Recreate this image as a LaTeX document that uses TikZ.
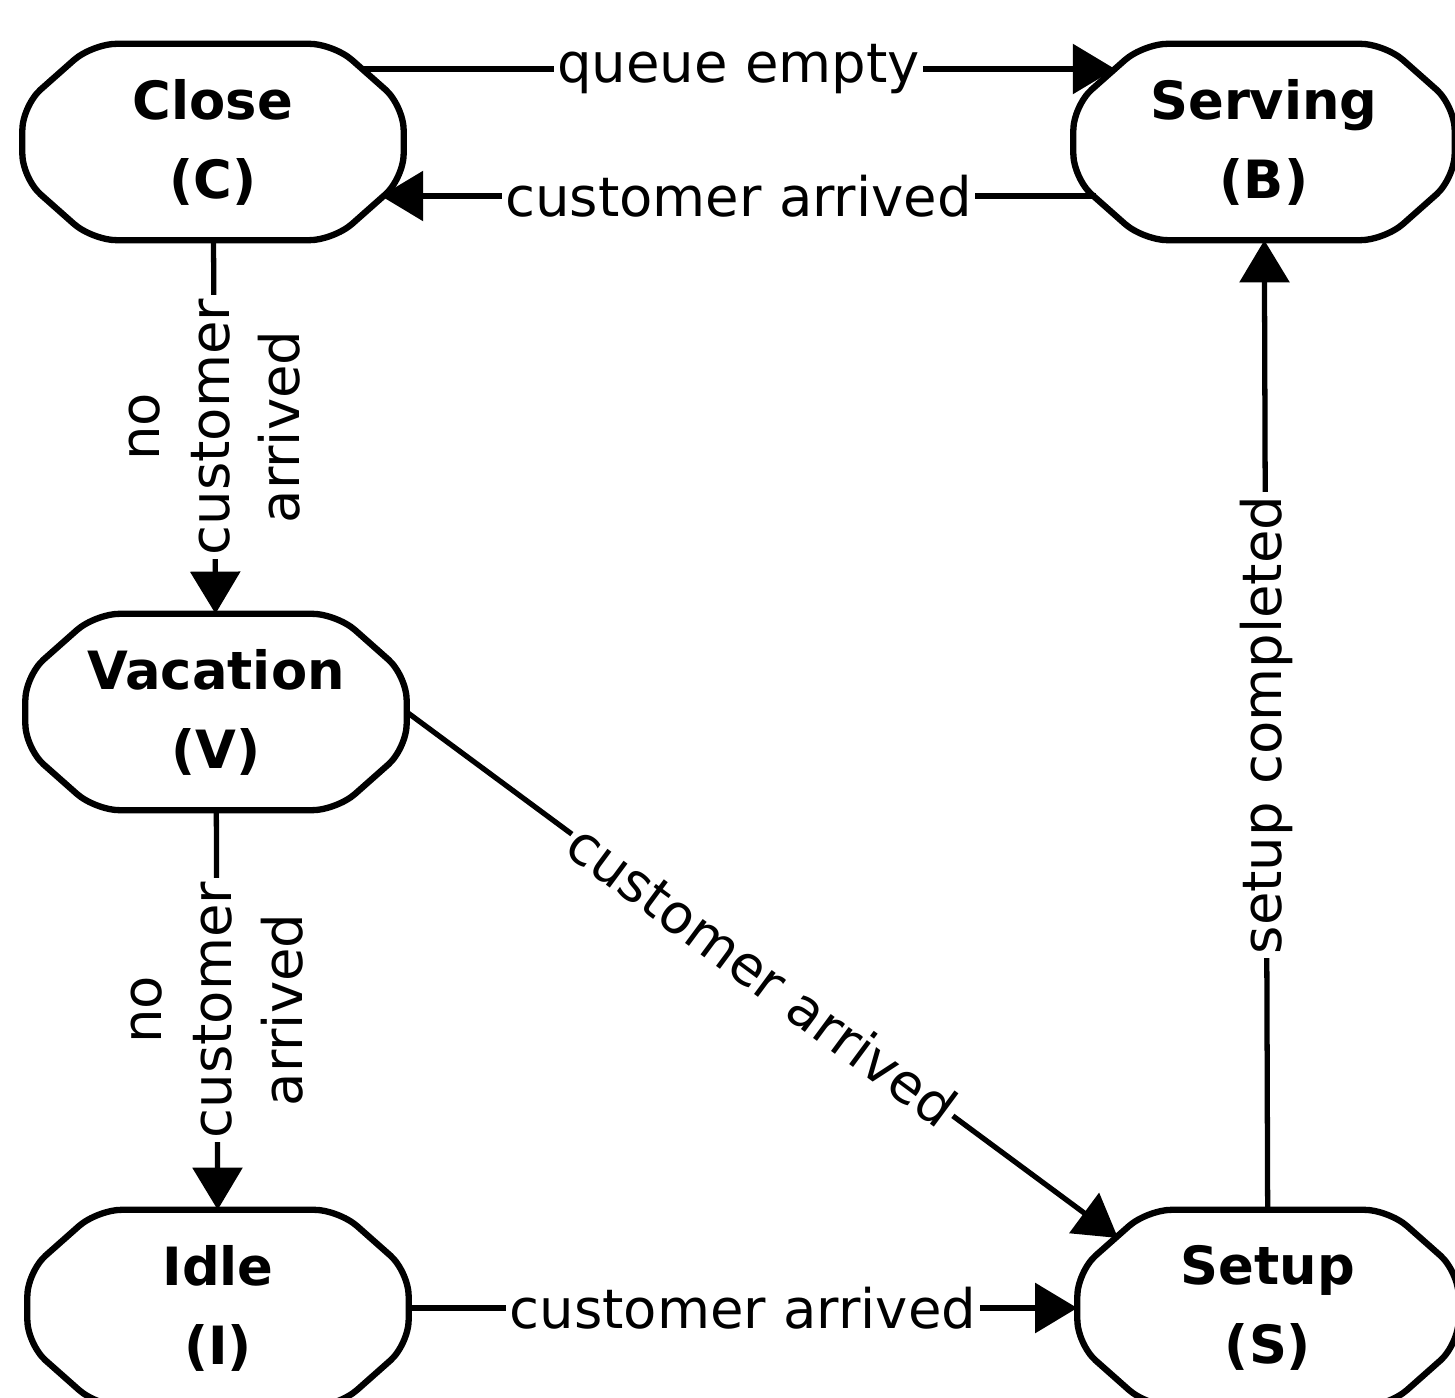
\documentclass[tikz,border=0pt]{standalone}
\usepackage{fontspec}
\setmainfont{DejaVu Sans}
\usetikzlibrary{calc,arrows.meta}
\tikzset{state/.style={rectangle, minimum width=3.8cm, minimum height=1.95cm, inner sep=0pt, align=center, font=\fontsize{15}{22.5}\selectfont\bfseries}}
\tikzset{stateline/.style={draw, line width=1.8pt, rounded corners=7pt}}
\tikzset{trans/.style={draw, line width=1.5pt, -{Triangle[length=12pt,width=14pt]}}}
\tikzset{lbl/.style={fill=white, inner sep=1pt, align=center, font=\fontsize{15.5}{20}\selectfont}}
\newcommand\octobox[1]{\draw[stateline] ([xshift=0.7cm]#1.north west) -- ([xshift=-0.7cm]#1.north east) -- ([yshift=-0.62cm]#1.north east) -- ([yshift=0.62cm]#1.south east) -- ([xshift=-0.7cm]#1.south east) -- ([xshift=0.7cm]#1.south west) -- ([yshift=0.62cm]#1.south west) -- ([yshift=-0.62cm]#1.north west) -- cycle;}

\begin{document}
\begin{tikzpicture}
  \useasboundingbox (0,0) rectangle (14.55,-13.98);
  \node[state] (close) at (2.13,-1.42) {Close\\(C)};
  \node[state] (serving) at (12.64,-1.42) {Serving\\(B)};
  \node[state] (vacation) at (2.16,-7.12) {Vacation\\(V)};
  \node[state] (idle) at (2.18,-13.08) {Idle\\(I)};
  \node[state] (setup) at (12.68,-13.08) {Setup\\(S)};
  \foreach \n in {close,serving,vacation,idle,setup} {\octobox{\n}}

  \draw[trans] ($(close)+(1.49,0.73)$) -- node[lbl] {queue empty} ($(serving)+(-1.49,0.73)$);
  \draw[trans] ($(serving)+(-1.68,-0.54)$) -- node[lbl] {customer arrived} ($(close)+(1.68,-0.54)$);
  \draw[trans] (close) -- node[lbl, rotate=90] {no\\customer\\arrived} (vacation);
  \draw[trans] (vacation) -- node[lbl, rotate=90] {no\\customer\\arrived} (idle);
  \draw[trans] (vacation.east) -- node[lbl, sloped] {customer arrived} ($(setup)+(-1.5,0.7)$);
  \draw[trans] (idle) -- node[lbl] {customer arrived} (setup);
  \draw[trans] (setup) -- node[lbl, rotate=90] {setup completed} (serving);
\end{tikzpicture}
\end{document}
